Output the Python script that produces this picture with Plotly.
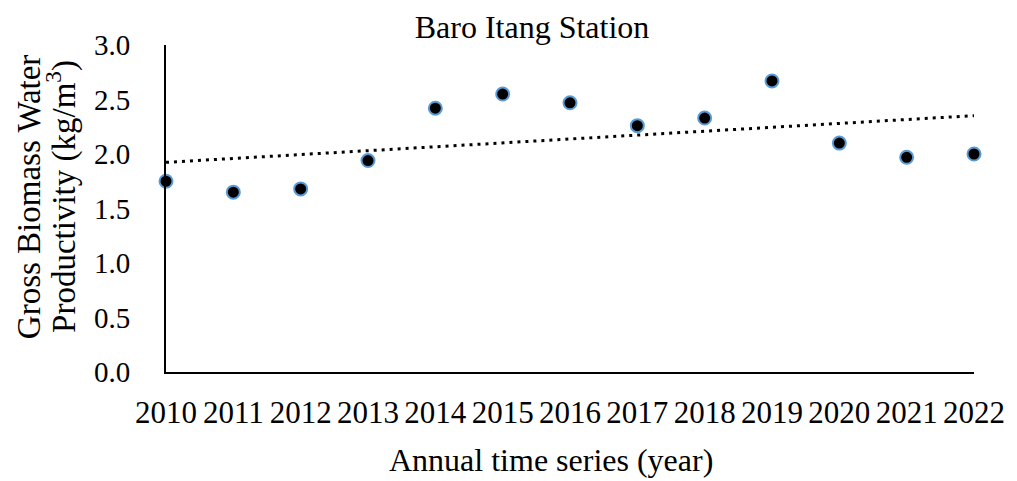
import numpy as np
import plotly.graph_objects as go

years = [2010, 2011, 2012, 2013, 2014, 2015, 2016, 2017, 2018, 2019, 2020, 2021, 2022]
gbwp = [1.75, 1.65, 1.68, 1.94, 2.42, 2.55, 2.47, 2.26, 2.33, 2.67, 2.10, 1.97, 2.00]
year_labels = [str(y) for y in years]
y_ticks = [0, 0.5, 1.0, 1.5, 2.0, 2.5, 3.0]
y_labels = ["0.0", "0.5", "1.0", "1.5", "2.0", "2.5", "3.0"]

# linear trend, as in the spreadsheet trendline
slope, intercept = np.polyfit(years, gbwp, 1)
trend = [slope * y + intercept for y in years]

FONT = "Liberation Serif, Times New Roman, serif"
PAGE = 8  # default body margin of the html page

fig = go.Figure()
fig.add_trace(go.Scatter(
    x=years, y=trend, mode="lines",
    line=dict(color="black", width=3, dash="3px,5px"),
    hoverinfo="skip", showlegend=False, cliponaxis=False,
))
fig.add_trace(go.Scatter(
    x=years, y=gbwp, mode="markers",
    marker=dict(size=13, color="black", line=dict(color="#5B9BD5", width=2)),
    showlegend=False, cliponaxis=False,
))

W, H = 1017 - PAGE, 481 - PAGE
fig.update_layout(
    width=W, height=H,
    margin=dict(l=166 - PAGE, r=36, t=45 - PAGE, b=109),
    plot_bgcolor="white", paper_bgcolor="white",
    font=dict(family=FONT, size=29, color="black"),
    title=dict(text="Baro Itang Station", x=(532 - PAGE) / W, xanchor="center",
               y=1 - (27 - PAGE) / H, yanchor="middle", yref="container",
               font=dict(family=FONT, size=32, color="black")),
)
fig.update_xaxes(
    range=[2010, 2022], tickvals=years, ticktext=year_labels,
    tickfont=dict(size=31),
    showline=True, linecolor="black", linewidth=2, showgrid=False,
    zeroline=False, ticks="", ticklabelstandoff=12,
)
fig.update_yaxes(
    range=[0, 3], tickvals=y_ticks, ticktext=y_labels,
    tickfont=dict(size=29),
    showline=True, linecolor="black", linewidth=2, showgrid=False,
    zeroline=False, ticks="", ticklabelstandoff=28,
)
fig.add_annotation(
    text="Annual time series (year)", xref="paper", yref="paper",
    x=(554 - 166) / 815, y=-(460 - 372) / 327, xanchor="center", yanchor="middle",
    showarrow=False, font=dict(family=FONT, size=32, color="black"),
)
fig.add_annotation(
    text="Gross Biomass Water",
    xref="paper", yref="paper", x=-(166 - 28) / 815, y=(372 - 197) / 327,
    xanchor="center", yanchor="middle", textangle=-90, showarrow=False,
    font=dict(family=FONT, size=33, color="black"),
)
fig.add_annotation(
    text="Productivity (kg/m<sup>3</sup>)",
    xref="paper", yref="paper", x=-(166 - 60) / 815, y=(372 - 196) / 327,
    xanchor="center", yanchor="middle", textangle=-90, showarrow=False,
    font=dict(family=FONT, size=33, color="black"),
)

fig.write_html("out.html")
